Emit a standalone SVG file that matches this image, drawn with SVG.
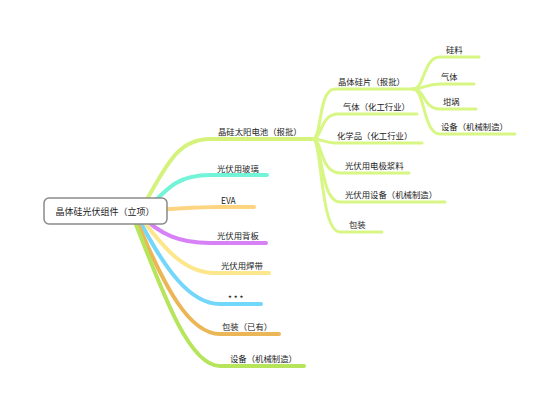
<svg xmlns="http://www.w3.org/2000/svg" width="558" height="409" viewBox="0 0 558 409">
<style>
.ln{fill:none;stroke-linecap:round;stroke-linejoin:round}
.m{stroke-width:4}
.s{stroke-width:3;stroke:#d7f684}
.t{font-family:"Noto Sans CJK SC","Liberation Sans",sans-serif;font-size:8.4px;fill:#222}
.r{font-size:9px}
</style>
<rect width="558" height="409" fill="#fff"/>
<g id="connectors">
<path class="ln m" stroke="#d5f27c" d="M140,211 C165,170 175,139 210,139 L313,139"/>
<path class="ln m" stroke="#72f4d8" d="M145,211 C170,185 180,175 210,175 L267,175"/>
<path class="ln m" stroke="#fdd581" d="M150,210 C190,208 200,207 220,207 L254,207"/>
<path class="ln m" stroke="#d682f6" d="M140,214 C160,235 180,243 210,243 L266,243"/>
<path class="ln m" stroke="#fde78c" d="M138,214 C165,250 185,273 215,273 L269,273"/>
<path class="ln m" stroke="#72d7fb" d="M136,214 C165,270 190,304 220,304 L261,304"/>
<path class="ln m" stroke="#ebb756" d="M134,214 C165,290 190,334 220,334 L279,334"/>
<path class="ln m" stroke="#b6e45b" d="M132,214 C165,300 190,366 220,366 L304,366"/>
<path class="ln s" d="M313,139 C322,139 318,89 335,89 L415,89"/>
<path class="ln s" d="M313,139 C322,139 320,114 338,114 L417,114"/>
<path class="ln s" d="M313,139 C322,139 325,143 335,143 L422,143"/>
<path class="ln s" d="M313,139 C322,139 320,173 340,173 L409,173"/>
<path class="ln s" d="M313,139 C322,139 320,202 340,202 L445,202"/>
<path class="ln s" d="M313,139 C322,139 320,232 340,232 L382,232"/>
<path class="ln s" d="M413,89 C425,89 423,57 440,57 L479,57"/>
<path class="ln s" d="M413,89 C425,89 425,84 440,84 L474,84"/>
<path class="ln s" d="M413,89 C425,89 423,109 440,109 L476,109"/>
<path class="ln s" d="M413,89 C425,89 423,134 440,134 L515,134"/>
</g>
<g id="root">
<rect x="44" y="198" width="123" height="26" rx="5" fill="#fff" stroke="#8a8a8a" stroke-width="1.5"/>
<text class="t r" x="105" y="214.5" text-anchor="middle">晶体硅光伏组件（立项）</text>
</g>
<g id="n-cell"><text class="t" x="218" y="135">晶硅太阳电池（报批）</text></g>
<g id="n-glass"><text class="t" x="217" y="172">光伏用玻璃</text></g>
<g id="n-eva"><text class="t" x="221" y="204">EVA</text></g>
<g id="n-back"><text class="t" x="217" y="239">光伏用背板</text></g>
<g id="n-ribbon"><text class="t" x="221" y="269">光伏用焊带</text></g>
<g id="n-more"><text class="t" x="228" y="302">* * *</text></g>
<g id="n-pack"><text class="t" x="222" y="330">包装（已有）</text></g>
<g id="n-equip"><text class="t" x="230" y="362">设备（机械制造）</text></g>
<g id="n-wafer"><text class="t" x="338" y="85">晶体硅片（报批）</text></g>
<g id="n-gas"><text class="t" x="343" y="110">气体（化工行业）</text></g>
<g id="n-chem"><text class="t" x="337" y="139">化学品（化工行业）</text></g>
<g id="n-paste"><text class="t" x="345" y="169">光伏用电极浆料</text></g>
<g id="n-pvequip"><text class="t" x="345" y="198">光伏用设备（机械制造）</text></g>
<g id="n-pack2"><text class="t" x="349" y="228">包装</text></g>
<g id="n-si"><text class="t" x="446" y="53">硅料</text></g>
<g id="n-gas2"><text class="t" x="441" y="80">气体</text></g>
<g id="n-crucible"><text class="t" x="443" y="105">坩埚</text></g>
<g id="n-equip2"><text class="t" x="441" y="130">设备（机械制造）</text></g>
</svg>
